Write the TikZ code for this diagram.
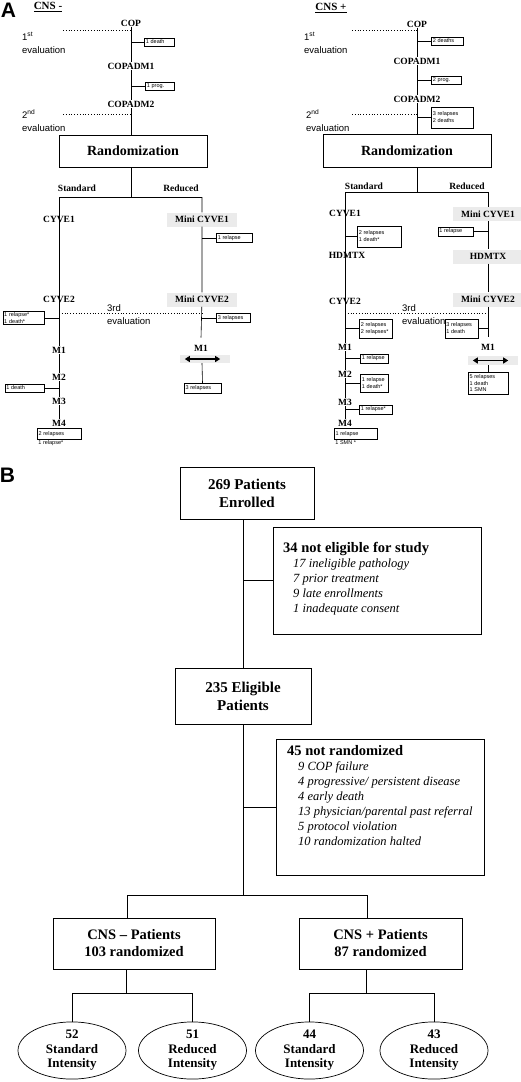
\documentclass[tikz,border=0pt]{standalone}
\usepackage{fontspec}
\setmainfont{Liberation Serif}
\newfontfamily\arialfont{Liberation Sans}
\usetikzlibrary{positioning,shapes.geometric,arrows.meta}

\newcommand{\eventfont}{\arialfont\fontsize{5.5}{7}\selectfont}
\tikzstyle{stage}=[font=\bfseries\fontsize{9.5}{11}\selectfont, inner sep=1pt]
\tikzstyle{shaded}=[stage, fill=black!8, minimum width=70pt, minimum height=14pt]
\tikzstyle{event}=[draw, line width=0.5pt, font=\eventfont, align=left, inner xsep=1.5pt, inner ysep=0.5pt]
\tikzstyle{evalnote}=[font=\arialfont\fontsize{9.5}{13}\selectfont, align=left, inner sep=0pt, anchor=west]
\tikzstyle{arm}=[draw, line width=0.6pt]
\tikzstyle{evalline}=[draw, dotted, line width=0.8pt]
\tikzstyle{randbox}=[draw, line width=0.7pt, font=\bfseries\fontsize{14}{16}\selectfont]
\tikzstyle{band}=[fill=black!8, minimum width=50pt, minimum height=8pt, inner sep=0pt]
\tikzstyle{twoway}=[line width=1.2pt, {Triangle[length=5pt,width=6pt]}-{Triangle[length=5pt,width=6pt]}]
\tikzstyle{panel}=[font=\arialfont\bfseries\fontsize{21}{21}\selectfont, inner sep=0pt]
\tikzstyle{flow}=[draw, line width=1pt, align=center, font=\bfseries\fontsize{14.5}{17}\selectfont]
\tikzstyle{bigflow}=[flow, font=\bfseries\fontsize{15}{18}\selectfont]
\tikzstyle{notebox}=[draw, line width=1pt]
\tikzstyle{reasons}=[align=left, anchor=west, inner sep=0pt, font=\itshape\fontsize{12.5}{15}\selectfont]
\tikzstyle{outcome}=[ellipse, draw, line width=0.7pt, minimum width=108pt, minimum height=57pt, inner sep=0pt, align=center, font=\bfseries\fontsize{13}{14.5}\selectfont]
\tikzstyle{link}=[draw, line width=1pt]

\begin{document}
\begin{tikzpicture}[x=1pt, y=-1pt]
    \useasboundingbox (0,0) rectangle (520,1082);
    % Panel A: the two treatment schemes
    \node[panel] (panA) at (8.5,10.5) {A};
    \node[stage, font=\bfseries\fontsize{11}{12}\selectfont] (lhead) at (48,7) {\underline{CNS -}};
    \node[stage, font=\bfseries\fontsize{11}{12}\selectfont] (rhead) at (331,8) {\underline{CNS +}};
    % First we draw the stages
    \foreach \pos/\name/\txt in {{(131,23)/lcop/COP}, {(131,66)/ladmA/COPADM1}, {(131,104)/ladmB/COPADM2},
        {(59,219)/lcyveA/CYVE1}, {(59,299)/lcyveB/CYVE2}, {(59,350)/lmA/M1}, {(59,377)/lmB/M2},
        {(59,401)/lmC/M3}, {(59,423)/lmD/M4}, {(201,348)/lmr/M1},
        {(417,24)/rcop/COP}, {(417,61)/radmA/COPADM1}, {(417,99)/radmB/COPADM2},
        {(345,213)/rcyveA/CYVE1}, {(347,255)/rhd/HDMTX}, {(345,301)/rcyveB/CYVE2}, {(345,347)/rmA/M1},
        {(345,374)/rmB/M2}, {(345,402)/rmC/M3}, {(345,423)/rmD/M4}, {(488,347)/rmr/M1},
        {(77,188)/lstdlab/Standard}, {(181,188)/lredlab/Reduced},
        {(364,186)/rstdlab/Standard}, {(467,186)/rredlab/Reduced}}
        \node[stage] (\name) at \pos {\txt};
    \foreach \pos/\name/\txt in {{(202,219.5)/lminiA/Mini CYVE1}, {(202,299.5)/lminiB/Mini CYVE2},
        {(488,214)/rminiA/Mini CYVE1}, {(488,256.5)/rhdr/HDMTX}, {(488,299.5)/rminiB/Mini CYVE2}}
        \node[shaded] (\name) at \pos {\txt};
    \node[randbox, minimum width=148pt, minimum height=32pt] (lrand) at (133,151) {Randomization};
    \node[randbox, minimum width=168pt, minimum height=33pt] (rrand) at (407,150.5) {Randomization};
    \node[band] (lband) at (205,359) {};
    \node[band, minimum height=9pt] (rband) at (493,360.5) {};
    % split points of the arms
    \coordinate (lsplit) at (131,197);
    \coordinate (lstd) at (59,197);
    \coordinate (lred) at (202,197);
    \coordinate (rsplit) at (417,192);
    \coordinate (rstd) at (345,192);
    \coordinate (rred) at (488,192);
    % the arms
    \path[arm] (lcop) -- (ladmA) -- (ladmB) -- (ladmB |- lrand.north);
    \path[arm] (lrand.south -| lsplit) -- (lsplit);
    \path[arm] (lstd) -- (lred);
    \path[arm] (lstd) -- (lmA.north);
    \path[arm] (lmA) -- (lmB) -- (lmC) -- (lmD);
    \path[arm] (lred) -- (lminiA) -- (lminiB) -- ([yshift=6pt]lmr.north);
    \path[arm] (rcop) -- (radmA) -- (radmB) -- (radmB |- rrand.north);
    \path[arm] (rrand.south -| rsplit) -- (rsplit);
    \path[arm] (rstd) -- (rred);
    \path[arm] (rstd) -- (rmA.north);
    \path[arm] (rmA) -- (rmB) -- (rmC) -- (rmD);
    \path[arm] (rred) -- (rminiA) -- (rhdr) -- (rminiB) -- ([yshift=6pt]rmr.north);
    \draw[twoway] ([xshift=5pt]lband.west) -- ([xshift=-10pt]lband.east);
    \draw[twoway] ([xshift=5pt]rband.west) -- ([xshift=-10pt]rband.east);
    % evaluations
    \coordinate (le1) at (63,30);
    \coordinate (le2) at (63,114);
    \coordinate (re1) at (352,30);
    \coordinate (re2) at (352,114);
    \coordinate (lthird) at (59,313);
    \coordinate (rthird) at (345,313);
    \path[evalline] (le1) -- (le1 -| lsplit);
    \path[evalline] (le2) -- (le2 -| lsplit);
    \path[evalline] (re1) -- (re1 -| rsplit);
    \path[evalline] (re2) -- (re2 -| rsplit);
    \path[evalline] (lthird) -- (lthird -| lred);
    \path[evalline] (rthird) -- (rthird -| rred);
    \node[evalnote] (lev1note) at (22,43) {1\textsuperscript{st}\\evaluation};
    \node[evalnote] (lev2note) at (22,120.5) {2\textsuperscript{nd}\\evaluation};
    \node[evalnote] (rev1note) at (304,43) {1\textsuperscript{st}\\evaluation};
    \node[evalnote] (rev2note) at (306,120.5) {2\textsuperscript{nd}\\evaluation};
    \node[evalnote] (lev3note) at (107,314.5) {3rd\\evaluation};
    \node[evalnote] (rev3note) at (402,314.5) {3rd\\evaluation};
    % Then the events of each stage
    \foreach \name/\pos/\anc/\bw/\bh/\colname/\txt in {
        {lev1/(144,42)/west/27/8/lsplit/{1 death}},
        {lev2/(145,86)/west/26/8/lsplit/{1 prog.}},
        {lev3/(216,238)/west/33/9/lred/{1 relapse}},
        {lev4/(44,318)/east/38/13/lstd/{1 relapse*\\1 death*}},
        {lev5/(216,318)/west/31/9/lred/{3 relapses}},
        {lev6/(44,388)/east/36/8/lstd/{1 death}},
        {rev1/(431,41)/west/29/8/rsplit/{2 deaths}},
        {rev2/(431,80)/west/27/8/rsplit/{2 prog.}},
        {rev3/(431,117.5)/west/39/21/rsplit/{3 relapses\\2 deaths}},
        {rev4/(357,236.5)/west/41/21/rstd/{2 relapses\\1 death*}},
        {rev5/(473,231.5)/east/32/9/rred/{1 relapse}},
        {rev6/(359,328.5)/west/30/19/rstd/{2 relapses\\2 relapses*}},
        {rev7/(478,328.5)/east/30/19/rred/{3 relapses\\1 death}},
        {rev8/(360,358.5)/west/25/9/rstd/{1 relapse}},
        {rev9/(360,383)/west/25/18/rstd/{1 relapse\\1 death*}},
        {rev10/(359,409.5)/west/30/9/rstd/{1 relapse*}}}
    {
        \node[event, text width=\bw pt, minimum height=\bh pt, anchor=\anc] (\name) at \pos {\txt};
        \edef\tickfrom{(\name.\anc -| \colname)}
        \edef\tickto{(\name.\anc)}
        \path[arm] \tickfrom -- \tickto;
    }
    \node[event, text width=41pt, minimum height=11pt, anchor=north,
        label={[font=\eventfont, anchor=north west, inner sep=0pt, xshift=1.5pt, yshift=-0.5pt]south west:1 relapse*}]
        (lev7) at (59,428) {2 relapses};
    \node[event, text width=40pt, minimum height=11pt, anchor=north,
        label={[font=\eventfont, anchor=north west, inner sep=0pt, xshift=1.5pt, yshift=-0.5pt]south west:1 SMN *}]
        (rev11) at (355.5,428) {1 relapse};
    \node[event, text width=34pt, minimum height=10pt, anchor=north] (lev8) at (202.5,383) {3 relapses};
    \node[event, text width=37pt, minimum height=22pt, anchor=north, font=\arialfont\fontsize{5.5}{6.5}\selectfont]
        (rev12) at (488,372) {5 relapses\\1 death\\1 SMN};
    \path[arm] (lband.south -| lred) -- (lev8.north);
    \path[arm] (rband.south -| rred) -- (rev12.north);

    % Panel B: flow of the patients
    \node[panel] (panB) at (7.5,475.5) {B};
    \node[bigflow, minimum width=134pt, minimum height=52pt] (enrol) at (247,493) {269 Patients\\Enrolled};
    \node[bigflow, minimum width=136pt, minimum height=56pt] (eligible) at (243,696) {235 Eligible\\Patients};
    \node[notebox, minimum width=208pt, minimum height=107pt] (inelig) at (377,580.5) {};
    \node[reasons] (ineligtext) at (283,579) {{\upshape\bfseries\fontsize{14.5}{16}\selectfont 34 not eligible for study}\\
        \hspace*{10pt}17 ineligible pathology\\
        \hspace*{10pt}7 prior treatment\\
        \hspace*{10pt}9 late enrollments\\
        \hspace*{10pt}1 inadequate consent};
    \node[notebox, minimum width=208pt, minimum height=136pt] (notrand) at (380,807) {};
    \node[reasons] (notrandtext) at (287,796) {{\upshape\bfseries\fontsize{14.5}{16}\selectfont 45 not randomized}\\
        \hspace*{11pt}9 COP failure\\
        \hspace*{11pt}4 progressive/ persistent disease\\
        \hspace*{11pt}4 early death\\
        \hspace*{11pt}13 physician/parental past referral\\
        \hspace*{11pt}5 protocol violation\\
        \hspace*{11pt}10 randomization halted};
    \node[flow, minimum width=162pt, minimum height=51pt] (cnsm) at (134,943.5) {CNS -- Patients\\103 randomized};
    \node[flow, minimum width=163pt, minimum height=51pt] (cnsp) at (380.5,943.5) {CNS + Patients\\87 randomized};
    \foreach \pos/\name/\txt in {{(72,1050.5)/msi/{52\\Standard\\Intensity}}, {(192.5,1050.5)/mri/{51\\Reduced\\Intensity}},
        {(309.5,1050.5)/psi/{44\\Standard\\Intensity}}, {(434,1050.5)/pri/{43\\Reduced\\Intensity}}}
        \node[outcome] (\name) at \pos {\txt};
    % Connect the boxes
    \coordinate (bsplit) at (243,895);
    \coordinate (bleft) at (127,895);
    \coordinate (bright) at (367,895);
    \coordinate (msplit) at (126,993);
    \coordinate (psplit) at (366,993);
    \path[link] (enrol.south -| bsplit) -- (eligible.north);
    \path[link] (eligible.south) -- (bsplit);
    \path[link] (inelig.west -| bsplit) -- (inelig.west);
    \path[link] (notrand.west -| bsplit) -- (notrand.west);
    \path[link] (bleft) -- (bright);
    \path[link] (bleft) -- (bleft |- cnsm.north);
    \path[link] (bright) -- (bright |- cnsp.north);
    \path[arm] (msplit |- cnsm.south) -- (msplit);
    \path[arm] (psplit |- cnsp.south) -- (psplit);
    \foreach \source/\dest in {msplit/msi, msplit/mri, psplit/psi, psplit/pri}
        \path[arm] (\source) -| (\dest.north);
\end{tikzpicture}
\end{document}
